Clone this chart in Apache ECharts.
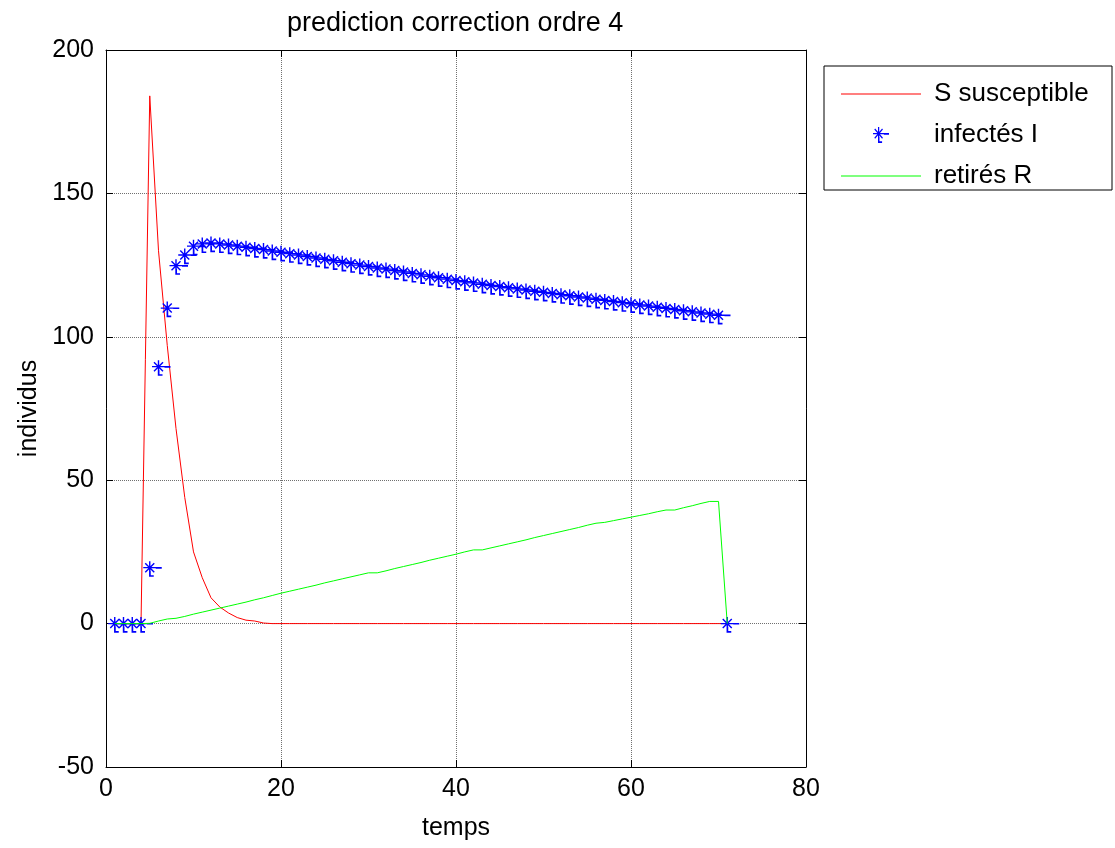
<!DOCTYPE html>
<html>
<head>
<meta charset="utf-8">
<script src="https://cdn.jsdelivr.net/npm/echarts@6/dist/echarts.min.js"></script>
<style>
  html, body { margin: 0; padding: 0; background: #fff; }
  #chart { width: 1115px; height: 848px; }
</style>
</head>
<body>
<div id="chart"></div>
<script>
// time steps (x values)
const temps = [1, 2, 3, 4, 5, 6, 7, 8, 9, 10, 11, 12, 13, 14, 15, 16, 17, 18, 19, 20,
  21, 22, 23, 24, 25, 26, 27, 28, 29, 30, 31, 32, 33, 34, 35, 36, 37, 38, 39, 40,
  41, 42, 43, 44, 45, 46, 47, 48, 49, 50, 51, 52, 53, 54, 55, 56, 57, 58, 59, 60,
  61, 62, 63, 64, 65, 66, 67, 68, 69, 70, 71];

// S susceptible
const susceptibles = [0, 0, 0, 0, 184, 130, 97, 68, 44, 25, 16, 9, 5.8, 3.7, 2.1, 1.2, 0.9, 0.2, 0, 0,
  0, 0, 0, 0, 0, 0, 0, 0, 0, 0, 0, 0, 0, 0, 0, 0, 0, 0, 0, 0,
  0, 0, 0, 0, 0, 0, 0, 0, 0, 0, 0, 0, 0, 0, 0, 0, 0, 0, 0, 0,
  0, 0, 0, 0, 0, 0, 0, 0, 0, 0, 0];

// infectés I
const infectes = [0, 0, 0, 0, 19.5, 89.6, 110, 124.8, 128.5, 131.6, 132.4, 132.7, 132.4, 132.0, 131.6, 131.2, 130.8, 130.4, 129.9, 129.5,
  129.0, 128.5, 128.0, 127.5, 127.0, 126.5, 126.0, 125.5, 125.0, 124.5, 124.0, 123.6, 123.1, 122.6, 122.1, 121.6, 121.1, 120.6, 120.1, 119.6,
  119.2, 118.8, 118.3, 117.9, 117.5, 117.1, 116.7, 116.3, 115.9, 115.5, 115.1, 114.7, 114.3, 113.9, 113.5, 113.1, 112.7, 112.3, 111.9, 111.5,
  111.1, 110.7, 110.3, 109.9, 109.5, 109.1, 108.7, 108.3, 107.9, 107.5, 0];

// retirés R
const retires = [0, 0, 0, 0, 0.1, 0.9, 1.6, 1.85, 2.5, 3.3, 4.0, 4.7, 5.4, 6.1, 6.8, 7.5, 8.3, 9.0, 9.8, 10.6,
  11.3, 12.0, 12.7, 13.4, 14.2, 14.9, 15.6, 16.3, 17.0, 17.7, 17.7, 18.4, 19.2, 19.9, 20.6, 21.3, 22.1, 22.8, 23.5, 24.2,
  25.0, 25.7, 25.7, 26.4, 27.1, 27.8, 28.5, 29.2, 30.0, 30.7, 31.4, 32.1, 32.8, 33.5, 34.3, 35.0, 35.3, 35.9, 36.5, 37.1,
  37.7, 38.3, 39.0, 39.6, 39.6, 40.4, 41.1, 41.9, 42.6, 42.6, 0];

const xTicks = [0, 20, 40, 60, 80];
const yTicks = [-50, 0, 50, 100, 150, 200];

// matlab-ish '*' marker with the little dash artefacts
const starPath = 'path://M0.5 6.3H13.5V7.7H0.5Z M6.3 0.5H7.7V13.5H6.3Z ' +
  'M2 3L3 2L12 11L11 12Z M11 2L12 3L3 12L2 11Z ' +
  'M13 6.3H19V8H13Z M6.3 10H8V16H6.3Z M6.3 14.5H11V16.2H6.3Z';
const lineIcon = 'path://M0 0H80V1.2H0Z';

const font = 'Liberation Sans';
const pairs = ys => temps.map((t, i) => [t, ys[i]]);

const chart = echarts.init(document.getElementById('chart'));

const tickStyle = { show: true, inside: true, length: 7, lineStyle: { color: '#000', width: 1 } };
const lineAxis = { show: true, onZero: false, lineStyle: { color: '#000', width: 1 } };
const gridLine = { show: true, lineStyle: { color: '#707070', type: [1, 1], width: 1 } };

chart.setOption({
  animation: false,
  backgroundColor: '#fff',
  title: {
    text: 'prediction correction ordre 4',
    left: 287,
    top: 10,
    padding: 0,
    textStyle: { fontFamily: font, fontSize: 27, fontWeight: 'normal', color: '#000' }
  },
  grid: { left: 106, right: 309, top: 50, bottom: 81 },
  graphic: [{
    type: 'rect',
    z: 0,
    shape: { x: 824, y: 66, width: 288, height: 124 },
    style: { fill: '#fff', stroke: '#000', lineWidth: 1 }
  }],
  legend: {
    orient: 'vertical',
    left: 841,
    top: 81,
    padding: 0,
    z: 10,
    itemWidth: 80,
    itemHeight: 20,
    itemGap: 15,
    textStyle: { fontFamily: font, fontSize: 26, color: '#000', padding: [0, 0, 0, 8] },
    data: [
      { name: 'S susceptible', icon: lineIcon },
      { name: 'infectés I' },
      { name: 'retirés R', icon: lineIcon }
    ]
  },
  xAxis: [{
    type: 'value',
    position: 'bottom',
    min: xTicks[0],
    max: xTicks[xTicks.length - 1],
    interval: 20,
    name: 'temps',
    nameLocation: 'middle',
    nameGap: 49,
    nameTextStyle: { fontFamily: font, fontSize: 25, color: '#000' },
    axisLine: lineAxis,
    axisTick: tickStyle,
    axisLabel: { fontFamily: font, fontSize: 25, color: '#000', margin: 10 },
    splitLine: gridLine
  }, {
    type: 'value',
    position: 'top',
    min: xTicks[0],
    max: xTicks[xTicks.length - 1],
    interval: 20,
    axisLine: lineAxis,
    axisTick: tickStyle,
    axisLabel: { show: false },
    splitLine: { show: false }
  }],
  yAxis: [{
    type: 'value',
    position: 'left',
    min: yTicks[0],
    max: yTicks[yTicks.length - 1],
    interval: 50,
    name: 'individus',
    nameLocation: 'middle',
    nameGap: 63,
    nameTextStyle: { fontFamily: font, fontSize: 25, color: '#000' },
    axisLine: lineAxis,
    axisTick: tickStyle,
    axisLabel: { fontFamily: font, fontSize: 25, color: '#000', margin: 12 },
    splitLine: gridLine
  }, {
    type: 'value',
    position: 'right',
    min: yTicks[0],
    max: yTicks[yTicks.length - 1],
    interval: 50,
    axisLine: lineAxis,
    axisTick: tickStyle,
    axisLabel: { show: false },
    splitLine: { show: false }
  }],
  series: [{
    name: 'S susceptible',
    type: 'line',
    data: pairs(susceptibles),
    symbol: 'none',
    color: '#ff0000',
    lineStyle: { color: '#ff0000', width: 1 },
    z: 3
  }, {
    name: 'infectés I',
    type: 'line',
    data: pairs(infectes),
    symbol: starPath,
    symbolSize: [18.5, 15.7],
    symbolOffset: [2.75, 1.35],
    showAllSymbol: true,
    color: '#0000ff',
    itemStyle: { color: '#0000ff' },
    lineStyle: { opacity: 0, width: 0 },
    z: 4
  }, {
    name: 'retirés R',
    type: 'line',
    data: pairs(retires),
    symbol: 'none',
    color: '#00ff00',
    lineStyle: { color: '#00ff00', width: 1 },
    z: 5
  }]
});
</script>
</body>
</html>
